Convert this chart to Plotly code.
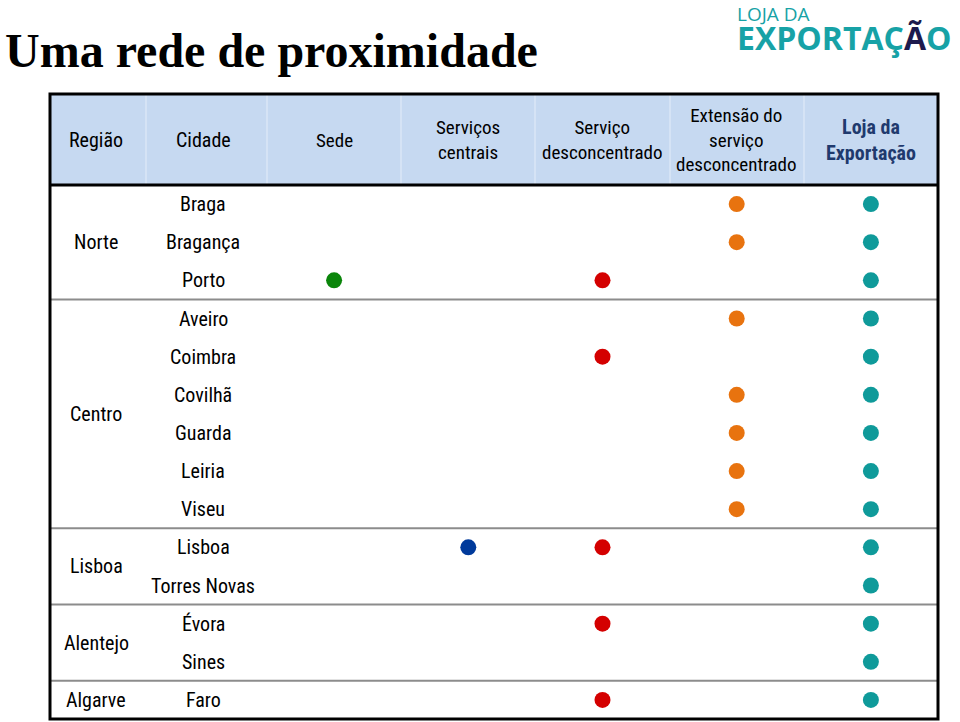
import plotly.graph_objects as go

# ---------------- data ----------------
cities = ["Braga", "Bragança", "Porto", "Aveiro", "Coimbra", "Covilhã", "Guarda",
          "Leiria", "Viseu", "Lisboa", "Torres Novas", "Évora", "Sines", "Faro"]
regions = ["Norte", "Norte", "Norte", "Centro", "Centro", "Centro", "Centro",
           "Centro", "Centro", "Lisboa", "Lisboa", "Alentejo", "Alentejo", "Algarve"]
columns = ["Sede", "Serviços centrais", "Serviço desconcentrado",
           "Extensão do serviço desconcentrado", "Loja da Exportação"]
column_labels = ["Sede", "Serviços<br>centrais", "Serviço<br>desconcentrado",
                 "Extensão do<br>serviço<br>desconcentrado", "<b>Loja da<br>Exportação</b>"]
sede = ["Porto"]
servicos_centrais = ["Lisboa"]
servico_desconcentrado = ["Porto", "Coimbra", "Lisboa", "Évora", "Faro"]
extensao = ["Braga", "Bragança", "Aveiro", "Covilhã", "Guarda", "Leiria", "Viseu"]
loja = list(cities)
presence = [sede, servicos_centrais, servico_desconcentrado, extensao, loja]
colors = ["#0a850a", "#003a9b", "#d40000", "#e8730f", "#0f9a9a"]

W, H = 960, 722
FONT = "Liberation Sans Narrow, Arial Narrow, Roboto Condensed, DejaVu Sans Condensed, Liberation Sans, sans-serif"

def px(x):
    return x / W

def py(y):
    return 1 - y / H

fig = go.Figure()
for col, members, c in zip(columns, presence, colors):
    fig.add_trace(go.Scatter(
        x=[col] * len(members), y=members, mode="markers",
        marker=dict(size=16, color=c, line=dict(width=0)),
        showlegend=False, hoverinfo="x+y"))

TL, TR, TT, TB, HB = 50, 938, 94, 719, 185
shapes = []
shapes.append(dict(type="rect", xref="paper", yref="paper", x0=px(TL), x1=px(TR),
                   y0=py(HB), y1=py(TT), fillcolor="#c6d9f1", line=dict(width=0), layer="below"))
for xb in [146, 267, 401, 535, 670, 804]:
    shapes.append(dict(type="line", xref="paper", yref="paper", x0=px(xb), x1=px(xb),
                       y0=py(HB), y1=py(TT), line=dict(color="rgba(255,255,255,0.55)", width=1), layer="below"))
for i in range(len(cities) - 1):
    if regions[i] != regions[i + 1]:
        shapes.append(dict(type="line", xref="paper", yref="y", x0=px(TL), x1=px(TR),
                           y0=i + 0.5, y1=i + 0.5, line=dict(color="#8c8c8c", width=2)))
shapes.append(dict(type="line", xref="paper", yref="paper", x0=px(TL), x1=px(TR),
                   y0=py(HB), y1=py(HB), line=dict(color="black", width=3)))
shapes.append(dict(type="rect", xref="paper", yref="paper", x0=px(TL), x1=px(TR),
                   y0=py(TB), y1=py(TT), line=dict(color="black", width=3)))

annotations = []
annotations.append(dict(text="<b>Uma rede de proximidade</b>", xref="paper", yref="paper",
                        x=px(3), y=py(50), xanchor="left", yanchor="middle", showarrow=False,
                        font=dict(family="Liberation Serif, Times New Roman, serif", size=48, color="black")))
annotations.append(dict(
    text="<span style='font-size:19px'>LOJA DA</span><br>"
         "<span style='font-size:32px'><b>EXPORTAÇ<span style='color:#1d1a4d'>Ã</span>O</b></span>",
    xref="paper", yref="paper", x=px(736), y=py(0),
    xanchor="left", yanchor="top", showarrow=False, align="left", borderpad=0,
    font=dict(family="Open Sans, sans-serif", size=22, color="#17a2a6")))

def ann(text, x, y, xref="paper", yref="paper", size=20, color="black"):
    annotations.append(dict(text=text, x=x, y=y, xref=xref, yref=yref, showarrow=False,
                            xanchor="center", yanchor="middle", align="center",
                            font=dict(family=FONT, size=size, color=color)))

ann("Região", px(96), py(140))
ann("Cidade", px(203), py(140))
for col, lab in zip(columns, column_labels):
    is_loja = col == "Loja da Exportação"
    ann(lab, col, py(140), xref="x", size=20 if is_loja else 19,
        color="#1f3a6e" if is_loja else "black")
for c in cities:
    ann(c, px(203), c, yref="y")
seen = []
for r in regions:
    if r not in seen:
        seen.append(r)
for r in seen:
    idx = [i for i, rr in enumerate(regions) if rr == r]
    ann(r, px(96), sum(idx) / len(idx), yref="y")

fig.update_layout(
    width=W, height=H, margin=dict(l=0, r=0, t=0, b=0),
    paper_bgcolor="white", plot_bgcolor="white",
    xaxis=dict(type="category", categoryorder="array", categoryarray=columns,
               range=[-0.5, len(columns) - 0.5], domain=[px(267), px(TR)],
               showgrid=False, zeroline=False, showticklabels=False, ticks=""),
    yaxis=dict(type="category", categoryorder="array", categoryarray=cities,
               range=[len(cities) - 0.5, -0.5], domain=[py(TB), py(HB)],
               showgrid=False, zeroline=False, showticklabels=False, ticks=""),
    shapes=shapes, annotations=annotations,
)
fig.write_html("out.html", config={"displayModeBar": False},
               post_script="document.body.style.margin='0';document.body.style.overflow='hidden';")
